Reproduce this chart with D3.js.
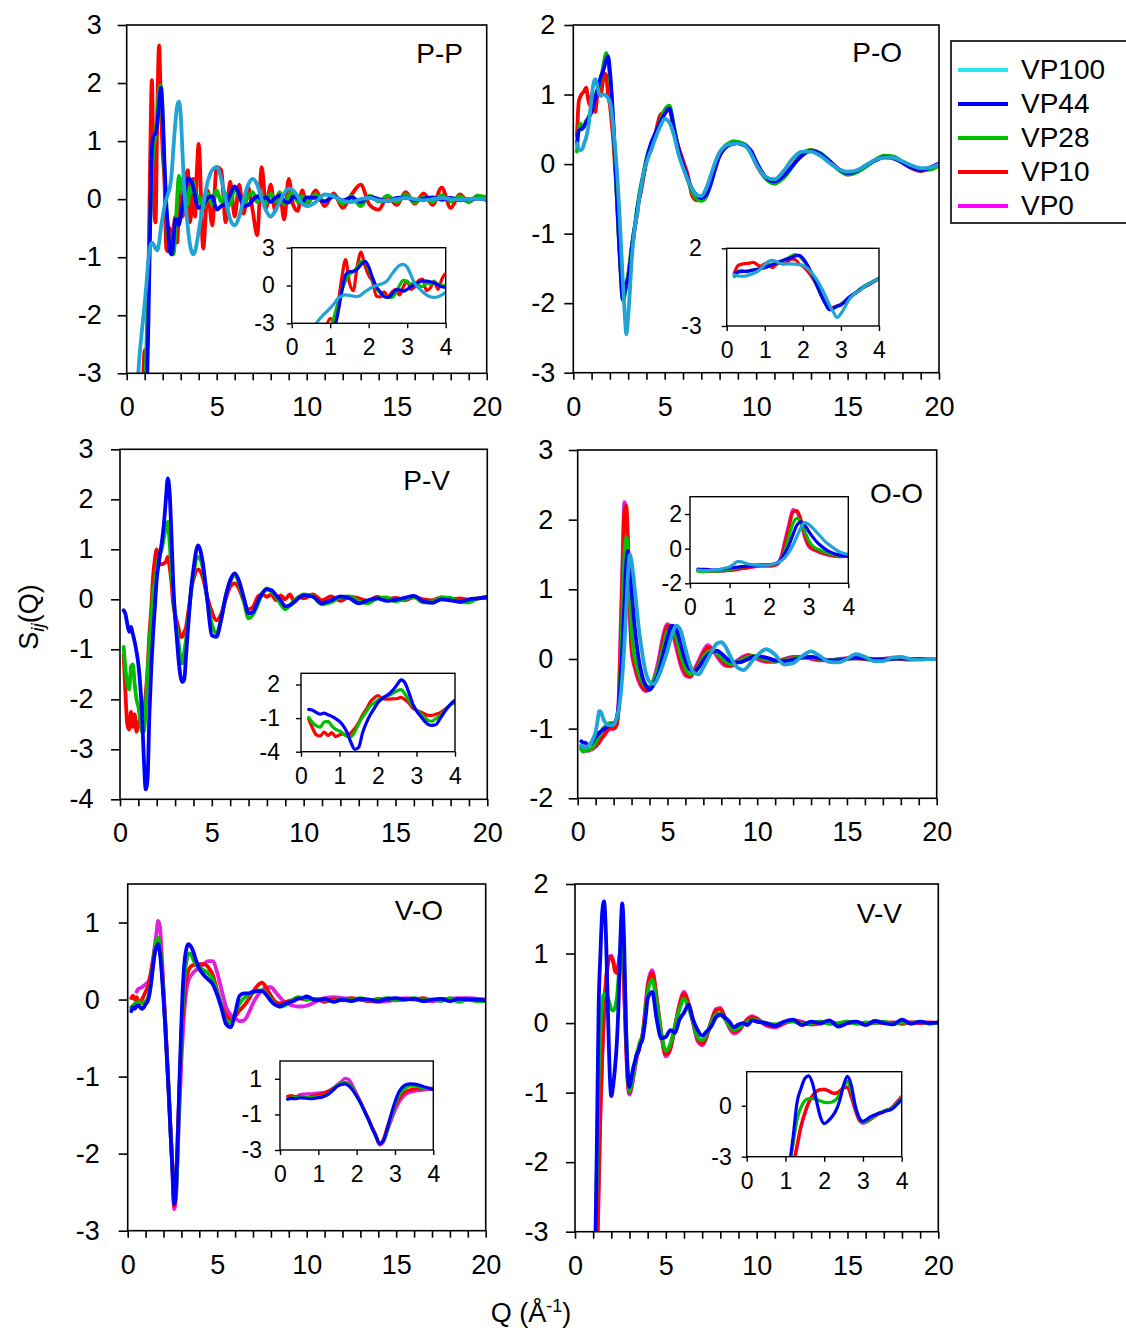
<!DOCTYPE html>
<html>
<head>
<meta charset="utf-8">
<script src="https://cdn.jsdelivr.net/npm/d3@7"></script>
<style>
  body { margin: 0; background: #fff; }
  svg { display: block; }
</style>
</head>
<body>
<svg id="chart" width="1126" height="1333"></svg>
<script>
// Scattering vector grid (Å^-1): fine steps at low Q, coarser in the tail
const Q = [
  0.2,0.3,0.4,0.5,0.6,0.7,0.8,0.9,1.0,1.1,1.2,1.3,1.4,1.5,1.6,1.7,1.8,1.9,2.0,2.1,
  2.2,2.3,2.4,2.5,2.6,2.7,2.8,2.9,3.0,3.1,3.2,3.3,3.4,3.5,3.6,3.7,3.8,3.9,4.0,
  4.25,4.5,4.75,5,5.25,5.5,5.75,6,6.25,6.5,6.75,7,7.25,7.5,7.75,8,8.25,8.5,8.75,9,9.25,9.5,9.75,10,
  10.5,11,11.5,12,12.5,13,13.5,14,14.5,15,15.5,16,16.5,17,17.5,18,18.5,19,19.5,20
];

// ---- P-P partial structure factors ----
const PP_VP100 = [
  null,null,null,null,-3.2,-2.75,-2.4,-2.1,-1.8,-1.45,-1.05,-0.82,-0.75,-0.78,-0.85,-0.88,-0.75,-0.5,-0.3,-0.12,
  0.0,0.1,0.2,0.45,0.9,1.3,1.6,1.68,1.45,0.8,0.15,-0.2,-0.5,-0.75,-0.9,-0.95,-0.9,-0.75,-0.55,
  -0.1,0.3,0.5,0.55,0.35,0.0,-0.35,-0.45,-0.3,0.0,0.25,0.35,0.25,0.0,-0.2,-0.3,-0.2,-0.05,0.1,0.18,0.15,0.05,-0.08,-0.12,
  -0.05,0.08,0.05,-0.03,-0.05,0.0,0.02,-0.02,-0.03,0.0,0.02,0.0,-0.02,0.0,0.02,0.0,-0.01,0.0,0.01,0.0
];
const PP_VP44 = [
  null,null,null,null,null,null,null,null,null,-3.6,-2.2,-0.5,0.85,1.1,1.12,1.3,1.65,1.92,1.5,0.6,
  -0.1,-0.5,-0.9,-0.95,-0.7,-0.35,-0.35,-0.45,-0.3,-0.1,0.1,0.25,0.36,0.35,0.3,0.2,0.05,-0.1,-0.15,
  -0.1,0.02,0.05,-0.18,-0.12,-0.08,0.08,0.22,0.08,-0.12,-0.1,-0.02,0.05,0.0,0.03,-0.05,0.02,0.06,-0.03,-0.06,0.04,0.02,-0.05,0.03,
  0.02,-0.04,0.05,-0.02,0.03,-0.05,0.04,0.0,-0.03,0.02,0.03,-0.02,0.01,0.03,-0.01,0.02,-0.02,0.0,0.01,0.0
];
const PP_VP28 = [
  null,null,null,null,null,null,null,null,-3.6,-2.5,-1.4,-0.4,0.4,0.9,1.1,1.45,1.9,1.95,1.3,0.5,
  -0.2,-0.6,-0.85,-0.95,-0.95,-0.6,0.0,0.4,0.3,0.1,0.25,0.0,-0.1,0.2,0.1,0.3,0.1,-0.05,0.05,
  -0.15,0.1,-0.1,0.15,-0.05,0.1,-0.1,0.2,0.05,-0.1,0.05,0.12,-0.05,0.08,-0.08,0.1,-0.04,0.12,-0.08,0.06,0.12,-0.05,0.05,-0.06,
  0.08,-0.05,0.07,-0.08,0.05,-0.12,0.06,-0.04,0.06,-0.05,0.08,-0.06,0.04,-0.05,0.07,-0.04,0.05,-0.05,0.06,0.03
];
const PP_VP10 = [
  null,null,null,null,null,null,null,-3.3,-2.6,-2.9,-1.5,0.6,2.05,0.2,-0.4,1.5,2.65,1.6,0.8,0.3,
  -0.85,-0.9,-0.5,-0.9,-0.55,-0.3,-0.75,-0.1,0.35,-0.3,-0.1,0.4,0.5,-0.4,-0.2,0.35,-0.3,0.5,0.95,
  -0.85,0.15,-0.45,0.55,0.5,-0.4,0.3,-0.3,0.25,-0.25,0.2,-0.2,-0.62,0.55,-0.15,0.25,-0.2,0.1,-0.35,0.35,-0.1,-0.2,0.15,-0.1,
  0.15,-0.12,0.1,-0.15,0.08,0.25,-0.1,-0.18,0.05,-0.1,0.12,-0.08,0.1,-0.1,0.2,-0.15,0.08,-0.05,0.06,-0.03
];

// ---- P-O ----
const PO_VP100 = [
  0.3,0.22,0.2,0.22,0.3,0.38,0.5,0.7,0.95,1.15,1.22,1.15,1.02,0.98,1.0,1.0,0.98,0.95,0.9,0.75,
  0.5,0.2,-0.15,-0.6,-1.1,-1.65,-2.1,-2.45,-2.2,-1.8,-1.35,-1.05,-0.85,-0.7,-0.5,-0.35,-0.2,-0.08,0.02,
  0.2,0.38,0.54,0.65,0.6,0.42,0.15,-0.05,-0.22,-0.36,-0.45,-0.46,-0.36,-0.18,0.02,0.17,0.25,0.28,0.29,0.3,0.28,0.24,0.13,0.0,
  -0.18,-0.22,-0.1,0.08,0.18,0.18,0.12,0.02,-0.07,-0.11,-0.09,-0.02,0.06,0.09,0.09,0.04,-0.02,-0.06,-0.05,0.0
];
const PO_VP44 = [
  0.3,0.48,0.5,0.52,0.55,0.6,0.65,0.7,0.75,0.85,0.95,1.05,1.15,1.25,1.32,1.4,1.5,1.55,1.35,1.0,
  0.55,0.0,-0.55,-1.1,-1.6,-1.95,-1.85,-1.72,-1.65,-1.45,-1.2,-1.0,-0.85,-0.65,-0.5,-0.35,-0.2,-0.08,0.05,
  0.3,0.45,0.6,0.72,0.8,0.52,0.22,0.0,-0.2,-0.36,-0.45,-0.49,-0.45,-0.3,-0.08,0.12,0.22,0.27,0.29,0.3,0.28,0.25,0.18,0.04,
  -0.18,-0.25,-0.17,-0.02,0.12,0.19,0.15,0.04,-0.07,-0.13,-0.1,-0.02,0.05,0.1,0.08,0.02,-0.05,-0.09,-0.05,0.01
];
const PO_VP28 = [
  0.18,0.5,0.58,0.5,0.55,0.62,0.65,0.72,0.78,0.9,0.98,1.05,1.12,1.22,1.35,1.5,1.6,1.5,1.25,0.95,
  0.5,-0.05,-0.6,-1.15,-1.6,-1.95,-1.9,-1.75,-1.6,-1.4,-1.18,-1.0,-0.82,-0.62,-0.45,-0.3,-0.18,-0.05,0.08,
  0.28,0.42,0.62,0.78,0.84,0.55,0.2,-0.02,-0.22,-0.4,-0.5,-0.53,-0.48,-0.3,-0.05,0.14,0.25,0.3,0.33,0.32,0.3,0.26,0.15,0.02,
  -0.2,-0.28,-0.2,-0.03,0.14,0.2,0.16,0.05,-0.08,-0.15,-0.12,-0.04,0.06,0.12,0.11,0.03,-0.05,-0.09,-0.08,-0.02
];
const PO_VP10 = [
  0.4,0.9,0.98,1.02,1.05,1.1,0.95,0.85,1.0,0.95,0.75,0.95,1.05,1.0,1.15,1.3,1.28,1.0,0.85,0.6,
  0.3,-0.1,-0.55,-1.1,-1.55,-1.85,-1.8,-1.7,-1.6,-1.4,-1.2,-1.05,-0.85,-0.7,-0.5,-0.4,-0.25,-0.1,0.05,
  0.2,0.45,0.7,0.75,0.78,0.5,0.25,0.05,-0.15,-0.45,-0.52,-0.5,-0.42,-0.25,-0.05,0.12,0.22,0.28,0.3,0.3,0.28,0.25,0.15,0.0,
  -0.2,-0.28,-0.18,-0.02,0.15,0.2,0.15,0.05,-0.07,-0.15,-0.11,-0.03,0.05,0.1,0.1,0.02,-0.06,-0.1,-0.06,-0.02
];

// ---- P-V ----
const PV_VP44 = [
  -0.22,-0.3,-0.5,-0.65,-0.55,-0.7,-0.85,-1.05,-1.3,-1.7,-2.3,-3.2,-3.8,-3.6,-2.3,-1.4,-0.7,-0.15,0.4,0.7,
  0.95,1.2,1.55,2.0,2.42,2.15,1.3,0.3,-0.35,-0.8,-1.25,-1.55,-1.65,-1.6,-1.1,-0.6,-0.1,0.3,0.6,
  1.08,0.75,0.0,-0.72,-0.75,-0.42,0.05,0.38,0.52,0.35,0.02,-0.28,-0.25,-0.05,0.12,0.2,0.18,0.08,-0.02,-0.14,-0.12,-0.05,0.03,0.08,
  0.05,-0.08,-0.02,0.06,0.02,-0.08,-0.02,0.02,-0.03,-0.01,0.03,0.07,-0.04,-0.07,0.0,-0.02,-0.05,0.0,0.02,0.05
];
const PV_VP28 = [
  -0.95,-1.4,-1.7,-1.8,-1.35,-1.3,-1.7,-2.0,-2.15,-2.4,-2.65,-2.65,-2.2,-1.5,-0.9,-0.4,0.1,0.35,0.6,0.8,
  0.92,1.05,1.25,1.45,1.55,1.15,0.6,0.1,-0.3,-0.6,-0.9,-1.2,-1.28,-1.05,-0.8,-0.45,-0.1,0.25,0.5,
  0.85,0.65,0.0,-0.5,-0.68,-0.4,0.05,0.35,0.48,0.3,-0.05,-0.38,-0.3,-0.1,0.12,0.22,0.15,0.05,-0.1,-0.2,-0.12,-0.02,0.05,0.1,
  0.06,-0.1,-0.06,0.04,0.06,-0.04,-0.08,0.02,0.04,-0.04,0.0,0.05,-0.06,-0.05,0.04,0.03,-0.05,-0.06,0.02,0.05
];
const PV_VP10 = [
  -1.1,-1.9,-2.5,-2.6,-2.25,-2.55,-2.3,-2.65,-2.5,-2.4,-2.6,-2.3,-1.9,-1.4,-0.7,-0.2,0.45,0.8,1.0,0.8,
  0.7,0.7,0.72,0.75,0.85,0.65,0.35,-0.1,-0.3,-0.45,-0.6,-0.75,-0.75,-0.65,-0.55,-0.3,-0.05,0.25,0.4,
  0.6,0.45,0.05,-0.25,-0.42,-0.3,0.0,0.25,0.32,0.2,-0.05,-0.2,-0.15,0.05,0.1,0.05,0.1,-0.02,0.08,0.0,0.1,-0.05,0.05,0.02,
  0.1,-0.02,0.06,-0.03,0.05,0.02,-0.03,0.05,0.0,0.03,-0.02,0.04,0.0,-0.02,0.04,0.0,0.02,-0.01,0.02,0.03
];

// ---- O-O ----
const OO_VP100 = [
  -1.24,-1.26,-1.27,-1.26,-1.24,-1.22,-1.18,-1.12,-1.05,-0.9,-0.75,-0.76,-0.84,-0.9,-0.93,-0.95,-0.95,-0.95,-0.94,-0.9,
  -0.82,-0.7,-0.5,-0.2,0.2,0.7,1.2,1.5,1.4,1.2,0.95,0.7,0.45,0.25,0.08,-0.08,-0.2,-0.28,-0.33,
  -0.36,-0.25,-0.08,0.12,0.35,0.48,0.4,0.15,-0.08,-0.2,-0.22,-0.12,0.0,0.12,0.22,0.24,0.17,0.04,-0.08,-0.14,-0.16,-0.1,-0.02,0.05,
  0.14,0.06,-0.08,-0.06,0.04,0.11,0.04,-0.04,-0.05,0.0,0.07,0.03,-0.03,-0.03,0.02,0.03,0.0,-0.01,0.0,0.0
];
const OO_VP44 = [
  -1.18,-1.2,-1.2,-1.22,-1.24,-1.22,-1.2,-1.16,-1.12,-1.09,-1.06,-1.04,-1.02,-1.0,-0.98,-0.96,-0.95,-0.94,-0.93,-0.9,
  -0.82,-0.62,-0.25,0.2,0.8,1.35,1.55,1.35,1.0,0.68,0.4,0.18,0.0,-0.14,-0.25,-0.33,-0.38,-0.42,-0.44,
  -0.36,-0.2,0.05,0.3,0.48,0.42,0.2,-0.02,-0.15,-0.18,-0.12,-0.02,0.06,0.1,0.12,0.08,0.02,-0.03,-0.05,-0.05,-0.03,0.0,0.03,0.04,
  0.02,-0.02,-0.03,-0.01,0.02,0.03,0.01,-0.02,-0.02,0.0,0.02,0.01,-0.01,-0.01,0.0,0.01,0.0,0.0,0.0,0.0
];
const OO_VP28 = [
  -1.3,-1.33,-1.32,-1.28,-1.3,-1.3,-1.28,-1.25,-1.2,-1.15,-1.1,-1.05,-1.0,-0.98,-0.95,-0.93,-0.92,-0.92,-0.92,-0.9,
  -0.85,-0.65,-0.1,0.7,1.45,1.75,1.55,1.0,0.45,0.15,0.0,-0.1,-0.2,-0.28,-0.33,-0.37,-0.4,-0.4,-0.4,
  -0.3,-0.12,0.15,0.4,0.45,0.3,0.05,-0.14,-0.22,-0.2,-0.1,0.03,0.1,0.12,0.08,0.02,-0.04,-0.07,-0.06,-0.03,0.0,0.03,0.04,0.03,
  -0.01,-0.03,-0.02,0.01,0.02,0.02,0.0,-0.02,-0.01,0.0,0.01,0.01,0.0,-0.01,0.0,0.01,0.0,0.0,0.0,0.0
];
const OO_VP10 = [
  -1.25,-1.27,-1.28,-1.3,-1.3,-1.3,-1.28,-1.26,-1.25,-1.22,-1.18,-1.14,-1.12,-1.08,-1.04,-1.0,-1.0,-1.0,-1.0,-0.98,
  -0.92,-0.6,0.3,1.2,2.1,2.2,1.7,0.8,0.2,0.0,-0.1,-0.2,-0.28,-0.35,-0.4,-0.43,-0.45,-0.45,-0.44,
  -0.32,-0.1,0.25,0.47,0.45,0.22,-0.05,-0.2,-0.25,-0.18,-0.05,0.08,0.16,0.15,0.07,-0.02,-0.08,-0.1,-0.07,-0.02,0.02,0.05,0.04,0.02,
  -0.03,-0.04,-0.01,0.02,0.03,0.01,-0.01,-0.02,-0.01,0.01,0.01,0.0,-0.01,0.0,0.01,0.0,-0.01,0.0,0.0,0.0
];
const OO_VP0 = [
  -1.28,-1.3,-1.3,-1.32,-1.32,-1.3,-1.3,-1.28,-1.26,-1.23,-1.2,-1.16,-1.12,-1.09,-1.05,-1.02,-1.0,-1.0,-1.0,-0.97,
  -0.88,-0.45,0.5,1.45,2.25,2.1,1.5,0.65,0.12,-0.05,-0.15,-0.25,-0.32,-0.38,-0.42,-0.45,-0.46,-0.45,-0.42,
  -0.28,-0.02,0.32,0.5,0.4,0.15,-0.1,-0.24,-0.26,-0.15,-0.02,0.12,0.2,0.14,0.04,-0.05,-0.1,-0.1,-0.05,0.0,0.04,0.06,0.04,0.0,
  -0.04,-0.03,0.0,0.03,0.03,0.0,-0.02,-0.02,0.0,0.01,0.01,0.0,-0.01,0.0,0.01,0.0,0.0,0.0,0.0,0.0
];

// ---- V-O ----
const VO_VP44 = [
  -0.15,-0.1,-0.12,-0.08,-0.08,-0.1,-0.12,-0.1,-0.06,-0.03,0.05,0.2,0.4,0.58,0.68,0.72,0.6,0.35,0.02,-0.35,
  -0.8,-1.25,-1.75,-2.2,-2.65,-2.45,-1.8,-1.0,-0.3,0.25,0.55,0.68,0.72,0.7,0.66,0.6,0.52,0.46,0.4,
  0.32,0.26,0.2,0.06,-0.12,-0.32,-0.36,-0.18,0.05,0.08,0.08,0.1,0.11,0.11,0.06,-0.02,-0.07,-0.09,-0.06,-0.04,-0.02,0.01,0.02,0.04,
  -0.01,0.01,-0.03,0.0,-0.02,0.01,0.0,-0.02,0.01,0.02,0.0,0.01,-0.02,0.0,0.01,-0.02,0.01,0.0,0.0,-0.01
];
const VO_VP28 = [
  -0.1,-0.08,-0.05,-0.04,-0.03,-0.04,-0.05,-0.04,-0.02,0.0,0.08,0.22,0.42,0.62,0.76,0.8,0.7,0.42,0.05,-0.35,
  -0.8,-1.25,-1.75,-2.2,-2.6,-2.5,-1.9,-1.15,-0.45,0.05,0.35,0.52,0.6,0.6,0.56,0.5,0.46,0.44,0.42,
  0.38,0.34,0.26,0.1,-0.1,-0.28,-0.3,-0.18,-0.05,0.02,0.06,0.09,0.12,0.12,0.08,0.0,-0.06,-0.09,-0.08,-0.04,0.0,0.03,0.02,0.0,
  0.01,0.0,-0.02,0.01,-0.01,0.02,-0.01,0.0,0.02,-0.01,0.0,0.02,-0.01,0.0,-0.02,0.02,-0.03,0.0,-0.02,-0.02
];
const VO_VP10 = [
  0.02,0.05,0.0,0.03,-0.02,-0.05,0.0,0.05,0.1,0.15,0.22,0.35,0.48,0.62,0.75,0.8,0.72,0.45,0.1,-0.3,
  -0.75,-1.2,-1.7,-2.15,-2.68,-2.4,-1.7,-1.1,-0.55,-0.15,0.15,0.3,0.38,0.42,0.44,0.45,0.45,0.46,0.46,
  0.46,0.42,0.32,0.12,-0.08,-0.2,-0.26,-0.22,-0.14,-0.08,0.0,0.1,0.18,0.22,0.15,0.05,-0.03,-0.05,-0.04,-0.02,0.0,0.02,0.01,0.0,
  0.01,-0.03,0.01,-0.01,0.02,0.0,-0.02,0.01,0.0,-0.01,0.01,0.0,0.02,-0.01,0.01,0.0,-0.01,0.01,0.0,0.0
];
const VO_VP0 = [
  null,null,null,0.1,0.14,0.15,0.16,0.18,0.2,0.22,0.26,0.35,0.5,0.68,0.85,1.02,0.95,0.6,0.15,-0.3,
  -0.78,-1.25,-1.75,-2.25,-2.72,-2.55,-1.95,-1.35,-0.8,-0.35,-0.05,0.15,0.25,0.3,0.33,0.36,0.38,0.4,0.42,
  0.46,0.5,0.5,0.35,0.12,-0.1,-0.2,-0.24,-0.28,-0.27,-0.18,-0.05,0.05,0.12,0.16,0.16,0.1,0.03,-0.03,-0.06,-0.08,-0.09,-0.09,-0.08,
  -0.03,0.02,0.03,0.02,0.01,0.0,-0.02,-0.03,-0.02,0.0,0.02,0.01,-0.01,-0.02,0.0,0.01,0.02,0.02,0.01,0.0
];

// ---- V-V ----
const VV_VP44 = [
  null,null,null,null,null,null,null,null,null,-3.6,-1.8,0.2,1.0,1.6,1.75,1.3,0.3,-0.65,-1.05,-0.9,
  -0.65,-0.3,0.3,1.2,1.72,1.2,0.0,-0.7,-0.92,-0.8,-0.65,-0.55,-0.45,-0.4,-0.3,-0.25,-0.1,0.12,0.35,
  0.45,0.05,-0.22,-0.2,-0.1,-0.14,0.05,0.15,0.26,0.05,-0.1,-0.18,-0.12,-0.05,0.08,0.12,0.08,0.02,-0.06,-0.02,0.0,-0.03,0.04,0.02,
  0.0,-0.04,0.02,0.05,-0.03,0.02,0.0,0.04,-0.05,0.0,0.02,-0.03,0.03,0.0,-0.02,0.05,-0.01,0.02,0.0,0.01
];
const VV_VP28 = [
  null,null,null,null,null,null,null,null,null,-3.5,-2.2,-0.8,-0.1,0.3,0.42,0.42,0.38,0.28,0.2,0.18,
  0.22,0.35,0.65,1.1,1.42,0.9,0.0,-0.7,-0.98,-0.9,-0.75,-0.6,-0.45,-0.35,-0.25,-0.2,-0.05,0.2,0.45,
  0.62,0.3,-0.15,-0.4,-0.3,-0.05,0.2,0.35,0.22,0.02,-0.2,-0.25,-0.15,0.0,0.12,0.14,0.06,-0.04,-0.1,-0.07,-0.02,0.02,0.05,0.04,
  0.0,-0.02,0.01,0.02,-0.01,0.0,0.02,-0.01,0.0,0.02,-0.01,0.01,0.0,0.02,-0.01,0.01,0.0,0.02,-0.01,0.01
];
const VV_VP10 = [
  null,null,null,null,null,null,null,null,null,null,-3.5,-2.3,-1.2,-0.4,0.2,0.6,0.85,0.95,0.95,0.88,
  0.75,0.72,0.85,1.05,1.1,0.55,-0.2,-0.8,-1.0,-0.92,-0.78,-0.62,-0.48,-0.38,-0.28,-0.2,0.0,0.25,0.5,
  0.72,0.35,-0.15,-0.45,-0.35,-0.05,0.25,0.42,0.28,0.02,-0.22,-0.3,-0.18,0.02,0.18,0.2,0.08,-0.05,-0.12,-0.1,-0.02,0.05,0.08,0.06,
  -0.02,-0.05,0.0,0.04,0.0,-0.02,0.02,0.0,-0.01,0.02,0.0,-0.01,0.01,0.0,0.01,-0.01,0.01,0.0,0.01,0.0
];
const VV_VP0 = [
  null,null,null,null,null,null,null,null,null,null,-3.6,-2.5,-1.3,-0.5,0.15,0.55,0.82,0.95,0.97,0.9,
  0.78,0.74,0.86,1.05,1.08,0.5,-0.25,-0.85,-1.03,-0.95,-0.8,-0.65,-0.5,-0.4,-0.3,-0.2,0.02,0.3,0.55,
  0.76,0.35,-0.18,-0.48,-0.38,-0.06,0.27,0.45,0.28,0.0,-0.26,-0.32,-0.2,0.02,0.2,0.22,0.08,-0.07,-0.15,-0.12,-0.03,0.06,0.1,0.07,
  -0.03,-0.06,-0.01,0.04,0.02,-0.02,-0.01,0.02,-0.01,0.0,0.01,-0.01,0.0,0.01,0.0,0.0,0.01,0.0,0.0,0.0
];

// Legend entries and tick labels
const SAMPLES = ["VP100", "VP44", "VP28", "VP10", "VP0"];
const X_TICKS = [0, 5, 10, 15, 20];
const INSET_X_TICKS = [0, 1, 2, 3, 4];

// ---------------- styling and layout ----------------
const FONT = '"Liberation Sans", Arial, Helvetica, sans-serif';
const LINE_COLOR = { VP100: "#20A3D5", VP44: "#0000FF", VP28: "#00BE00", VP10: "#FF0000", VP0: "#E020E0" };
const SWATCH_COLOR = { VP100: "#22E6F2", VP44: "#0000FF", VP28: "#00BE00", VP10: "#FF0000", VP0: "#FF00FF" };
const DRAW_ORDER = ["VP0", "VP10", "VP28", "VP44", "VP100"];

const PANELS = [
  { id: "pp", label: "P-P", series: { VP100: PP_VP100, VP44: PP_VP44, VP28: PP_VP28, VP10: PP_VP10 },
    box: [126.7, 25, 486.7, 373.3], yDom: [-3, 3], yTicks: [-3, -2, -1, 0, 1, 2, 3], yGap: 25, lab: [463, 63],
    inset: { box: [291.7, 247.7, 445.7, 323.3], yDom: [-3, 3], yTicks: [-3, 0, 3], yGap: 17 } },
  { id: "po", label: "P-O", series: { VP100: PO_VP100, VP44: PO_VP44, VP28: PO_VP28, VP10: PO_VP10 },
    box: [573.3, 25, 939, 372.7], yDom: [-3, 2], yTicks: [-3, -2, -1, 0, 1, 2], yGap: 18, lab: [902, 62],
    inset: { box: [726.7, 248.3, 879, 326], yDom: [-3, 2], yTicks: [-3, 2], yGap: 25 } },
  { id: "pv", label: "P-V", series: { VP44: PV_VP44, VP28: PV_VP28, VP10: PV_VP10 },
    box: [120, 449.3, 487.3, 799.3], yDom: [-4, 3], yTicks: [-4, -3, -2, -1, 0, 1, 2, 3], yGap: 26.5, lab: [450, 490],
    inset: { box: [301, 673.3, 455, 751.7], yDom: [-4, 3], yTicks: [-4, -1, 2], yGap: 21 } },
  { id: "oo", label: "O-O", series: { VP100: OO_VP100, VP44: OO_VP44, VP28: OO_VP28, VP10: OO_VP10, VP0: OO_VP0 },
    box: [577.7, 450, 936.7, 798.3], yDom: [-2, 3], yTicks: [-2, -1, 0, 1, 2, 3], yGap: 24.5, lab: [923, 503],
    inset: { box: [690, 496.7, 848.3, 583.3], yDom: [-2, 3], yTicks: [-2, 0, 2], yGap: 8 } },
  { id: "vo", label: "V-O", series: { VP44: VO_VP44, VP28: VO_VP28, VP10: VO_VP10, VP0: VO_VP0 },
    box: [127.7, 884, 485.7, 1230.7], yDom: [-3, 1.5], yTicks: [-3, -2, -1, 0, 1], yGap: 28, lab: [443, 920],
    inset: { box: [280, 1061, 433.3, 1150], yDom: [-3, 2], yTicks: [-3, -1, 1], yGap: 18 } },
  { id: "vv", label: "V-V", series: { VP44: VV_VP44, VP28: VV_VP28, VP10: VV_VP10, VP0: VV_VP0 },
    box: [575, 884, 938.3, 1231.7], yDom: [-3, 2], yTicks: [-3, -2, -1, 0, 1, 2], yGap: 26.5, lab: [902, 923],
    inset: { box: [746.7, 1071.7, 901.7, 1156.7], yDom: [-3, 2], yTicks: [-3, 0], yGap: 15 } }
];

const svg = d3.select("#chart");
const defs = svg.append("defs");

function plotArea(parent, id, box, xDom, yDom, opts) {
  const [x0, y0, x1, y1] = box;
  const x = d3.scaleLinear().domain(xDom).range([x0, x1]);
  const y = d3.scaleLinear().domain(yDom).range([y1, y0]);
  const g = parent.append("g");

  if (opts.fill) {
    g.append("rect").attr("x", x0).attr("y", y0).attr("width", x1 - x0).attr("height", y1 - y0)
      .attr("fill", "#fff");
  }

  defs.append("clipPath").attr("id", "clip-" + id)
    .append("rect").attr("x", x0).attr("y", y0).attr("width", x1 - x0).attr("height", y1 - y0);

  const line = d3.line()
    .defined(d => d[1] != null)
    .x(d => x(d[0]))
    .y(d => y(d[1]))
    .curve(d3.curveMonotoneX);

  const lines = g.append("g").attr("clip-path", `url(#clip-${id})`);
  DRAW_ORDER.filter(k => opts.series[k]).forEach(k => {
    const vals = opts.series[k];
    const pts = Q.map((q, i) => [q, vals[i]]).filter(d => d[0] <= xDom[1] + 0.3);
    lines.append("path")
      .datum(pts)
      .attr("d", line)
      .attr("fill", "none")
      .attr("stroke", LINE_COLOR[k])
      .attr("stroke-width", opts.lw)
      .attr("stroke-linejoin", "round")
      .attr("stroke-linecap", "round");
  });

  // frame
  g.append("rect").attr("x", x0).attr("y", y0).attr("width", x1 - x0).attr("height", y1 - y0)
    .attr("fill", "none").attr("stroke", "#000").attr("stroke-width", opts.frameW);

  // x axis
  const xa = d3.axisBottom(x)
    .tickValues(opts.xTickValues)
    .tickSize(opts.xTick)
    .tickSizeOuter(0)
    .tickPadding(opts.xBase - opts.xTick - 0.71 * opts.fs)
    .tickFormat(d => opts.xLabels.includes(d) ? String(d) : "");
  const gx = g.append("g").attr("transform", `translate(0,${y1})`).call(xa);

  // y axis
  const ya = d3.axisLeft(y)
    .tickValues(opts.yTicks)
    .tickSize(opts.yTick)
    .tickSizeOuter(0)
    .tickPadding(opts.yGap - opts.yTick)
    .tickFormat(d => String(d));
  const gy = g.append("g").attr("transform", `translate(${x0},0)`).call(ya);

  [gx, gy].forEach(a => {
    a.select(".domain").remove();
    a.selectAll(".tick line").attr("stroke", "#000").attr("stroke-width", opts.frameW);
    a.selectAll("text").attr("fill", "#000").style("font-family", FONT).style("font-size", opts.fs + "px");
  });
  return g;
}

PANELS.forEach(p => {
  plotArea(svg, p.id, p.box, [0, 20], p.yDom, {
    series: p.series, lw: 3.8, frameW: 1.6,
    xTickValues: d3.range(0, 21), xLabels: X_TICKS, xTick: 7, xBase: 43,
    yTicks: p.yTicks, yTick: 9, yGap: p.yGap, fs: 27
  });

  svg.append("text")
    .attr("x", p.lab[0]).attr("y", p.lab[1])
    .attr("text-anchor", "end")
    .style("font-family", FONT).style("font-size", "28px")
    .text(p.label);

  plotArea(svg, p.id + "-in", p.inset.box, [0, 4], p.inset.yDom, {
    series: p.series, lw: 3.2, fill: true, frameW: 1.4,
    xTickValues: INSET_X_TICKS, xLabels: INSET_X_TICKS, xTick: 5, xBase: 32,
    yTicks: p.inset.yTicks, yTick: 5, yGap: p.inset.yGap, fs: 23
  });
});

// legend
const legend = svg.append("g");
legend.append("rect")
  .attr("x", 951).attr("y", 41).attr("width", 200).attr("height", 182)
  .attr("fill", "#fff").attr("stroke", "#000").attr("stroke-width", 1.6);
SAMPLES.forEach((s, i) => {
  const yy = 70 + i * 34;
  legend.append("line")
    .attr("x1", 958).attr("x2", 1008).attr("y1", yy).attr("y2", yy)
    .attr("stroke", SWATCH_COLOR[s]).attr("stroke-width", 4);
  legend.append("text")
    .attr("x", 1021).attr("y", yy + 9)
    .style("font-family", FONT).style("font-size", "28px")
    .text(s);
});

// axis titles
const yTitle = svg.append("text")
  .attr("transform", "translate(38,617) rotate(-90)")
  .attr("text-anchor", "middle")
  .style("font-family", FONT).style("font-size", "27px");
yTitle.append("tspan").text("S");
yTitle.append("tspan").attr("dy", 6).style("font-size", "19px").style("font-style", "italic").text("ij");
yTitle.append("tspan").attr("dy", -6).text("(Q)");

const xTitle = svg.append("text")
  .attr("x", 531).attr("y", 1322)
  .attr("text-anchor", "middle")
  .style("font-family", FONT).style("font-size", "27px");
xTitle.append("tspan").text("Q (Å");
xTitle.append("tspan").attr("dy", -10).style("font-size", "18px").text("-1");
xTitle.append("tspan").attr("dy", 10).text(")");
</script>
</body>
</html>
